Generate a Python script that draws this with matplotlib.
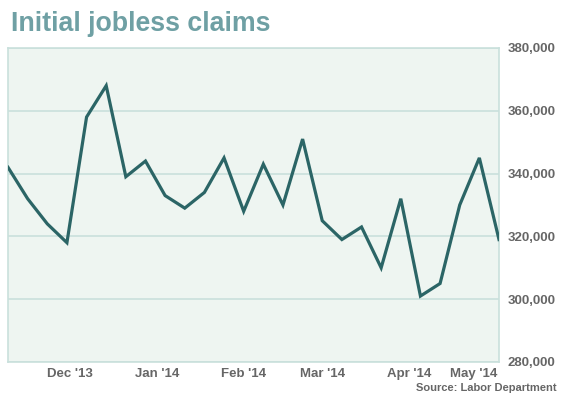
import matplotlib
matplotlib.use("Agg")
import matplotlib.pyplot as plt
import matplotlib.transforms as mtransforms
import numpy as np
import datetime as dt
import matplotlib.dates as mdates

# Data: weekly initial jobless claims (weeks ending Saturday)
start = dt.date(2013, 11, 9)
claims = [342000, 332000, 324000, 318000, 358000, 368000, 339000, 344000,
          333000, 329000, 334000, 345000, 328000, 343000, 330000, 351000,
          325000, 319000, 323000, 310000, 332000, 301000, 305000, 330000,
          345000, 319000]
dates = [start + dt.timedelta(weeks=i) for i in range(len(claims))]

tick_dates = [dt.date(2013, 12, 1), dt.date(2014, 1, 1), dt.date(2014, 2, 1),
              dt.date(2014, 3, 1), dt.date(2014, 4, 1), dt.date(2014, 5, 1)]
tick_labels = ["Dec '13", "Jan '14", "Feb '14", "Mar '14", "Apr '14", "May '14"]
y_ticks = [280000, 300000, 320000, 340000, 360000, 380000]

plt.rcParams['font.family'] = ['Liberation Sans', 'DejaVu Sans']

fig = plt.figure(figsize=(5.73, 3.99), dpi=100)
ax = fig.add_axes([8/573, 1 - 362/399, (499 - 8)/573, (362 - 48)/399])

grid_c = '#c9e0dc'
ax.set_facecolor('#eef5f1')
ax.plot(mdates.date2num(dates), claims, color='#2b6566', lw=2.3,
        solid_joinstyle='miter', zorder=3)

ax.set_xlim(mdates.date2num(dates[0]), mdates.date2num(dates[-1]))
ax.set_ylim(280000, 380000)
ax.set_yticks(y_ticks)
ax.set_yticklabels([f"{v:,}" for v in y_ticks])
ax.yaxis.tick_right()
ax.set_xticks(mdates.date2num(tick_dates))
ax.set_xticklabels(tick_labels)
ax.grid(axis='y', color=grid_c, lw=1.2, zorder=1)
ax.tick_params(length=0, colors='#666666', labelsize=9.5)
ax.tick_params(axis='y', pad=6)
ax.tick_params(axis='x', pad=4)
for lab in ax.get_xticklabels() + ax.get_yticklabels():
    lab.set_fontweight('bold')
last = ax.get_xticklabels()[-1]
last.set_ha('right')
last.set_transform(last.get_transform() + mtransforms.ScaledTranslation(4/100, 0, fig.dpi_scale_trans))
for s in ax.spines.values():
    s.set_color(grid_c)
    s.set_linewidth(1.2)

fig.text(11/573, 1 - 24/399, "Initial jobless claims", fontsize=19.3, fontweight='bold',
         color='#6fa0a4', va='center', ha='left')
fig.text(557/573, 1 - 388/399, "Source: Labor Department", fontsize=8, fontweight='bold',
         color='#666666', va='center', ha='right')

fig.savefig('out.png', dpi=100)
